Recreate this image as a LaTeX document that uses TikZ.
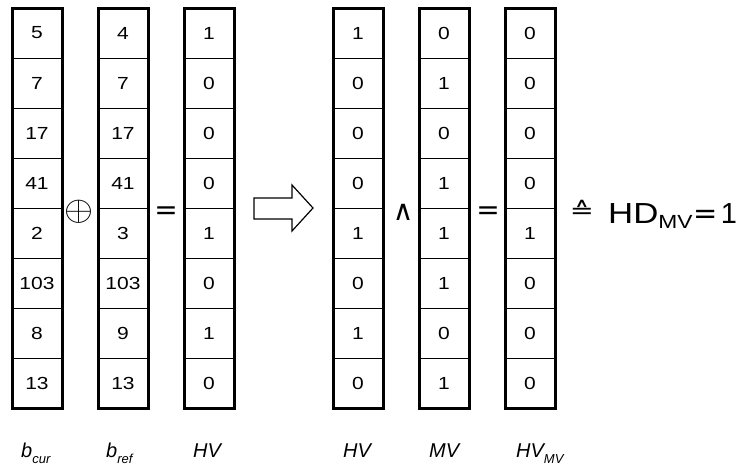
\documentclass[tikz,border=0pt]{standalone}
\usepackage{fontspec}
\setmainfont{Liberation Sans}
\newfontfamily\symfont{DejaVu Sans}
\usepackage{tikz}
\newcommand\lowtext[3]{{\fontsize{#1}{#1}\selectfont\raisebox{-#2}{#3}}}
\newcommand\wide[1]{\scalebox{1.2}[1]{#1}}

\begin{document}
\begin{tikzpicture}[x=1pt, y=-1pt,
    cell/.style={draw, line width=1pt, minimum width=50pt, minimum height=50pt,
      inner sep=0pt, outer sep=0pt, font=\fontsize{17.5}{17.5}\selectfont},
    colframe/.style={line width=3pt},
    oper/.style={inner sep=0pt, font=\fontsize{28}{28}\selectfont\symfont},
    colname/.style={anchor=base west, inner sep=0pt, font=\fontsize{20}{20}\selectfont\itshape}]
    \useasboundingbox (0,0) rectangle (741,469);

    \foreach \v [count=\i] in {5,7,17,41,2,103,8,13}
        \node[cell] (cur-\i) at (37,{33+50*(\i-1)}) {\wide{\v}};
    \foreach \v [count=\i] in {4,7,17,41,3,103,9,13}
        \node[cell] (ref-\i) at (123,{33+50*(\i-1)}) {\wide{\v}};
    \foreach \v [count=\i] in {1,0,0,0,1,0,1,0}
        \node[cell] (hv-\i) at (209,{33+50*(\i-1)}) {\wide{\v}};
    \foreach \v [count=\i] in {1,0,0,0,1,0,1,0}
        \node[cell] (hvb-\i) at (358,{33+50*(\i-1)}) {\wide{\v}};
    \foreach \v [count=\i] in {0,1,0,1,1,1,0,1}
        \node[cell] (mv-\i) at (444,{33+50*(\i-1)}) {\wide{\v}};
    \foreach \v [count=\i] in {0,0,0,0,1,0,0,0}
        \node[cell] (hvmv-\i) at (530,{33+50*(\i-1)}) {\wide{\v}};
    \foreach \c in {cur,ref,hv,hvb,mv,hvmv}
        \draw[colframe] (\c-1.north west) rectangle (\c-8.south east);

    \node[inner sep=0pt, font=\fontsize{24}{24}\selectfont] (xor) at (79,212) {\scalebox{1.5}[1.4]{$\oplus$}};
    \node[oper] (eqa) at (166,213) {=};
    \node[oper] (and) at (403,212) {∧};
    \node[oper] (eqb) at (488,213) {=};
    \node[inner sep=0pt, font=\fontsize{25}{25}\selectfont\symfont] (corr) at (582,209) {\scalebox{1.15}[0.9]{≙}};
    \node[anchor=base west, inner sep=0pt, font=\fontsize{29}{29}\selectfont] (hd) at (608,223)
        {\wide{HD}\lowtext{19}{5pt}{\wide{MV}}\hspace{1pt}{\symfont=}\hspace{3pt}1};

    \draw[line width=1.2pt, fill=white] (254,198) -- (292,198) -- (292,185) -- (313,208)
        -- (292,231) -- (292,219) -- (254,219) -- cycle;

    \node[colname] (lcur) at (21,457) {b\lowtext{13}{6pt}{cur}};
    \node[colname] (lref) at (106,457) {b\lowtext{13}{6pt}{ref}};
    \node[colname] (lhv) at (193,457) {HV};
    \node[colname] (lhvb) at (343,457) {HV};
    \node[colname] (lmv) at (429,457) {MV};
    \node[colname] (lhvmv) at (516,457) {HV\lowtext{13}{6pt}{MV}};
\end{tikzpicture}
\end{document}
